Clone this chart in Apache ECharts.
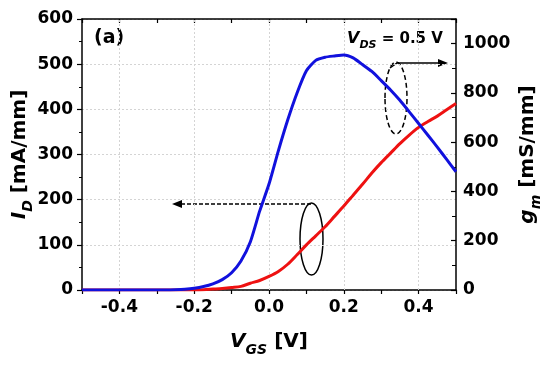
<!DOCTYPE html>
<html>
<head>
<meta charset="utf-8">
<script src="https://cdn.jsdelivr.net/npm/echarts@6/dist/echarts.min.js"></script>
<style>
  html, body { margin: 0; padding: 0; background: #fff; }
  #main { width: 550px; height: 366px; }
</style>
</head>
<body>
<div id="main"></div>
<script>
// V_GS sweep, step 0.025 V
var vgs = [];
for (var i = 0; i <= 40; i++) vgs.push(+(-0.5 + i * 0.025).toFixed(3));

// drain current I_D [mA/mm]
var idData = [0, 0, 0, 0, 0, 0, 0, 0, 0, 0,
  0, 0, 0, 0.5, 2, 3.5, 5.5, 8, 15, 21,
  30, 41, 57, 78, 100, 120, 140, 163, 186, 210,
  234, 259, 282, 303, 324, 343, 360, 373, 385, 399, 413];

// transconductance g_m [mS/mm]
var gmData = [0, 0, 0, 0, 0, 0, 0, 0, 0, 0,
  1, 3, 7, 14, 25, 42, 70, 118, 195, 320,
  430, 565, 690, 800, 890, 932, 945, 950, 954, 942,
  915, 887, 850, 812, 770, 723, 676, 628, 580, 530, 480];

var gridX = [-0.4, -0.2, 0, 0.2, 0.4];

var myChart = echarts.init(document.getElementById('main'));

var FONT = 'DejaVu Sans';
var lbl = { fontFamily: FONT, fontWeight: 'bold', fontSize: 17, color: '#000' };
var axLine = { onZero: false, lineStyle: { color: '#000', width: 1.5 } };

function pairs(ys) {
  return vgs.map(function (v, k) { return [v, ys[k]]; });
}

var nameRich = {
  it: { fontFamily: FONT, fontWeight: 'bold', fontStyle: 'italic', fontSize: 20, lineHeight: 30, verticalAlign: 'middle' },
  sub: { fontFamily: FONT, fontWeight: 'bold', fontStyle: 'italic', fontSize: 14, lineHeight: 30, verticalAlign: 'bottom' },
  n: { fontFamily: FONT, fontWeight: 'bold', fontSize: 20, lineHeight: 30, verticalAlign: 'middle' }
};

myChart.setOption({
  animation: false,
  backgroundColor: '#fff',
  grid: { left: 82, right: 94, top: 19, bottom: 76, containLabel: false, outerBoundsMode: 'none' },
  xAxis: [{
    type: 'value', min: -0.5, max: 0.5, interval: 0.1,
    axisLine: axLine,
    axisTick: { inside: false, length: 4, lineStyle: { color: '#000', width: 1.2 } },
    axisLabel: Object.assign({
      margin: 9,
      formatter: function (v) {
        var k = Math.round(v * 10);
        if (k % 2 !== 0) return '';
        return (k / 10).toFixed(1);
      }
    }, lbl),
    splitLine: { show: false },
    name: '{it|V}{sub|GS}{n| [V]}',
    nameLocation: 'middle', nameGap: 37,
    nameTextStyle: { rich: nameRich }
  }, {
    type: 'value', min: -0.5, max: 0.5, interval: 0.1, position: 'top',
    axisLine: axLine,
    axisTick: { inside: true, length: 4, lineStyle: { color: '#000', width: 1.2 } },
    axisLabel: { show: false },
    splitLine: { show: false }
  }],
  yAxis: [{
    type: 'value', min: 0, max: 600, interval: 100,
    axisLine: axLine,
    axisTick: { inside: false, length: 5, lineStyle: { color: '#000', width: 1.2 } },
    minorTick: { show: true, splitNumber: 2, length: 3, lineStyle: { color: '#000', width: 1 } },
    axisLabel: Object.assign({ margin: 9 }, lbl),
    splitLine: { show: true, lineStyle: { color: '#d4d4d4', type: [2, 2], width: 1 } },
    name: '{it|I}{sub|D}{n| [mA/mm]}',
    nameLocation: 'middle', nameRotate: 90, nameGap: 47, nameMoveOverlap: false,
    nameTextStyle: { rich: nameRich }
  }, {
    type: 'value', min: 0, max: 1100, interval: 200, position: 'right',
    axisLine: axLine,
    axisTick: { inside: true, length: 5, lineStyle: { color: '#000', width: 1.2 } },
    minorTick: { show: true, splitNumber: 2, length: 4, lineStyle: { color: '#000', width: 1 } },
    axisLabel: Object.assign({
      margin: 7, showMaxLabel: false,
      formatter: function (v) { return String(v); }
    }, lbl),
    splitLine: { show: false },
    name: '{it|g}{sub|m}{n| [mS/mm]}',
    nameLocation: 'middle', nameRotate: 90, nameGap: 57, nameMoveOverlap: false,
    nameTextStyle: { rich: nameRich }
  }],
  series: [{
    type: 'line', data: [], silent: true, z: 1,
    markLine: {
      silent: true, symbol: 'none', label: { show: false }, z: 1,
      lineStyle: { color: '#d4d4d4', type: [2, 2], width: 1 },
      data: gridX.map(function (v) { return { xAxis: v }; })
    }
  }, {
    name: 'ID', type: 'line', xAxisIndex: 0, yAxisIndex: 0,
    data: pairs(idData), showSymbol: false, smooth: 0.3, z: 3,
    lineStyle: { color: '#ee1111', width: 3 }
  }, {
    name: 'gm', type: 'line', xAxisIndex: 0, yAxisIndex: 1,
    data: pairs(gmData), showSymbol: false, smooth: 0.2, z: 4,
    lineStyle: { color: '#1111dd', width: 3 }
  }],
  graphic: [
    { type: 'text', left: 94, top: 29, style: { text: '(a)', font: 'bold 19px "DejaVu Sans"', fill: '#000' } },
    { type: 'text', left: 347, top: 31, style: {
        text: '{it|V}{sub|DS}{n| = 0.5 V}',
        rich: {
          it: { fontFamily: FONT, fontWeight: 'bold', fontStyle: 'italic', fontSize: 16, lineHeight: 24, verticalAlign: 'middle' },
          sub: { fontFamily: FONT, fontWeight: 'bold', fontStyle: 'italic', fontSize: 11, lineHeight: 24, verticalAlign: 'bottom' },
          n: { fontFamily: FONT, fontWeight: 'bold', fontSize: 15, lineHeight: 24, verticalAlign: 'middle' }
        }
    } },
    // I_D marker ellipse and arrow
    { type: 'ellipse', shape: { cx: 311.5, cy: 239, rx: 11.5, ry: 36 }, style: { fill: 'none', stroke: '#000', lineWidth: 1.5 } },
    { type: 'line', shape: { x1: 311, y1: 204, x2: 180, y2: 204 }, style: { stroke: '#000', lineWidth: 1.5, lineDash: [4, 2] } },
    { type: 'polygon', shape: { points: [[172, 204], [182, 200], [182, 208]] }, style: { fill: '#000' } },
    // g_m marker ellipse and arrow
    { type: 'ellipse', shape: { cx: 396, cy: 98, rx: 11, ry: 36 }, style: { fill: 'none', stroke: '#000', lineWidth: 1.5, lineDash: [5, 3] } },
    { type: 'polyline', shape: { points: [[390, 68], [397, 63], [440, 63]] }, style: { fill: 'none', stroke: '#000', lineWidth: 1.5 } },
    { type: 'polygon', shape: { points: [[448, 63], [438, 59], [438, 67]] }, style: { fill: '#000' } }
  ]
});
</script>
</body>
</html>
